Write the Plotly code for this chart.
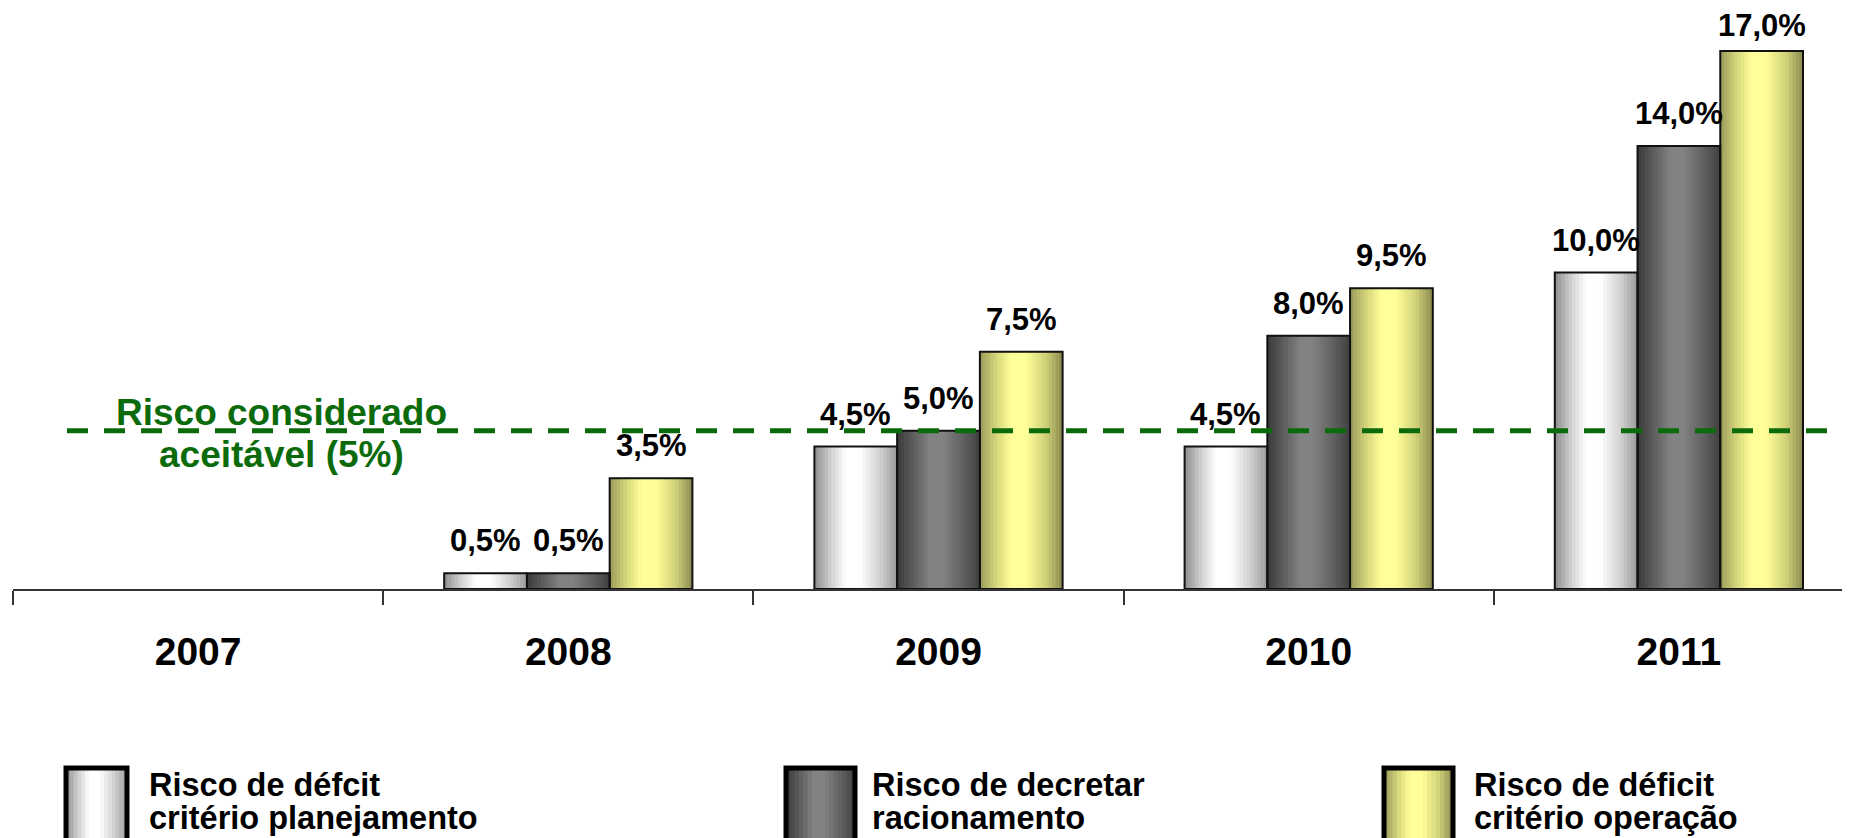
import plotly.graph_objects as go

# ---------------- data ----------------
years = ["2007", "2008", "2009", "2010", "2011"]
risco_planejamento = [None, 0.5, 4.5, 4.5, 10.0]
risco_racionamento = [None, 0.5, 5.0, 8.0, 14.0]
risco_operacao = [None, 3.5, 7.5, 9.5, 17.0]
series_names = ["Risco de défcit critério planejamento",
                "Risco de decretar racionamento",
                "Risco de déficit critério operação"]
legend_lines = [["Risco de défcit", "critério planejamento"],
                ["Risco de decretar", "racionamento"],
                ["Risco de déficit", "critério operação"]]
limite_aceitavel = 5.0
limite_texto = ["Risco considerado", "aceitável (5%)"]

# ---------------- styling ----------------
FONT = "Liberation Sans, Arial, sans-serif"
GREEN = "#0b6b0b"
OFF = 8                      # page body margin of the html page
W, H = 1850 - OFF, 838 - OFF
BASE = 589                   # baseline y in window pixels
L, R, T = 13 - OFF, 0, 0
PH = BASE - OFF - T
B = H - T - PH
PW = W - L - R
CAT = 370.2                  # category width in pixels
UNIT = 31.65                 # pixels per percentage point

def hex2rgb(h):
    h = h.lstrip("#")
    return tuple(int(h[i:i + 2], 16) for i in (0, 2, 4))

def grad(stops, t):
    for (t0, c0), (t1, c1) in zip(stops, stops[1:]):
        if t0 <= t <= t1:
            f = (t - t0) / (t1 - t0) if t1 > t0 else 0
            a, b = hex2rgb(c0), hex2rgb(c1)
            return "rgb(%d,%d,%d)" % tuple(round(a[i] + (b[i] - a[i]) * f) for i in range(3))
    return stops[-1][1]

gradients = [
    [(0, "#8e8e8e"), (0.2, "#d0d0d0"), (0.38, "#ffffff"), (0.55, "#ffffff"), (0.8, "#cfcfcf"), (1, "#9a9a9a")],
    [(0, "#3a3a3a"), (0.2, "#5e5e5e"), (0.4, "#828282"), (0.55, "#828282"), (0.8, "#606060"), (1, "#404040")],
    [(0, "#9a9a5a"), (0.2, "#d6d67c"), (0.38, "#ffff99"), (0.55, "#ffff99"), (0.8, "#d0d078"), (1, "#8a8a50")],
]

all_series = [risco_planejamento, risco_racionamento, risco_operacao]
bar_w = 0.2235
offsets = [-1.5 * bar_w, -0.5 * bar_w, 0.5 * bar_w]
K = 24

def fmt(v):
    return "" if v is None else ("%.1f%%" % v).replace(".", ",")

fig = go.Figure()
for s, vals in enumerate(all_series):
    sw = bar_w / K
    for k in range(K):
        t = (k + 0.5) / K
        wk = sw * 1.6 if k < K - 1 else sw
        fig.add_trace(go.Bar(
            x=years, y=vals, offset=offsets[s] + k * sw, width=wk,
            marker=dict(color=grad(gradients[s], t), line=dict(width=0)),
            showlegend=False, hoverinfo="skip"))
for s, vals in enumerate(all_series):
    fig.add_trace(go.Bar(
        x=years, y=vals, offset=offsets[s], width=bar_w,
        name=series_names[s],
        marker=dict(color="rgba(0,0,0,0)", line=dict(color="#111111", width=2)),
        showlegend=False))

def px(x):
    return (x - OFF - L) / PW

def py(y):
    return (T + PH - (y - OFF)) / PH

annotations = []
# value labels above each bar (x given as category index on the category axis)
for s, vals in enumerate(all_series):
    for i, v in enumerate(vals):
        if v is None:
            continue
        shift = min(13, PH - 37 - v * UNIT)   # keep the highest label inside the top edge
        annotations.append(dict(xref="x", yref="y", x=i + offsets[s] + bar_w / 2, y=v,
                                showarrow=False, xanchor="center", yanchor="bottom", yshift=shift,
                                text="<b>%s</b>" % fmt(v),
                                font=dict(family=FONT, size=31, color="#000000")))

shapes = []
# acceptable-risk dashed line
shapes.append(dict(type="line", xref="paper", yref="y", x0=px(67), x1=1.0,
                   y0=limite_aceitavel, y1=limite_aceitavel,
                   line=dict(color=GREEN, width=5, dash="21px,16px"), layer="above"))

# legend swatches
sw_x = [(66, 127), (786, 855), (1384, 1453)]
text_x = [147, 870, 1472]
for s in range(3):
    x0, x1 = sw_x[s]
    n = 16
    for k in range(n):
        t = (k + 0.5) / n
        a = x0 + (x1 - x0) * k / n
        b = x0 + (x1 - x0) * (k + 1.6) / n if k < n - 1 else x1
        shapes.append(dict(type="rect", xref="paper", yref="paper",
                           x0=px(a), x1=px(b), y0=py(768), y1=py(850),
                           fillcolor=grad(gradients[s], t), line=dict(width=0)))
    shapes.append(dict(type="rect", xref="paper", yref="paper",
                       x0=px(x0), x1=px(x1), y0=py(768), y1=py(850),
                       fillcolor="rgba(0,0,0,0)", line=dict(color="#000000", width=5)))
    for j, line in enumerate(legend_lines[s]):
        annotations.append(dict(xref="paper", yref="paper", x=px(text_x[s]), y=py(785 + 33 * j),
                                xanchor="left", yanchor="middle", showarrow=False, text="<b>%s</b>" % line,
                                font=dict(family=FONT, size=32.5, color="#000000")))

for j, line in enumerate(limite_texto):
    annotations.append(dict(xref="paper", yref="paper", x=px(281), y=py(413 + 41 * j),
                            xanchor="center", yanchor="middle", showarrow=False, text="<b>%s</b>" % line,
                            font=dict(family=FONT, size=37, color=GREEN)))

fig.update_layout(
    width=W, height=H, margin=dict(l=L, r=R, t=T, b=B, pad=0),
    paper_bgcolor="white", plot_bgcolor="white",
    barmode="overlay", showlegend=False,
    shapes=shapes, annotations=annotations,
    font=dict(family=FONT),
    xaxis=dict(type="category", categoryorder="array", categoryarray=years,
               range=[-0.5, -0.5 + PW / CAT], showgrid=False, zeroline=False,
               showline=True, linecolor="#333333", linewidth=2,
               ticks="outside", tickson="boundaries", ticklen=14, tickwidth=2, tickcolor="#333333",
               tickfont=dict(family=FONT, size=39, color="#000000"),
               tickprefix="<b>", ticksuffix="</b>", ticklabelstandoff=27),
    yaxis=dict(range=[0, PH / UNIT], visible=False, showgrid=False, zeroline=False),
)

fig.write_html("out.html")
